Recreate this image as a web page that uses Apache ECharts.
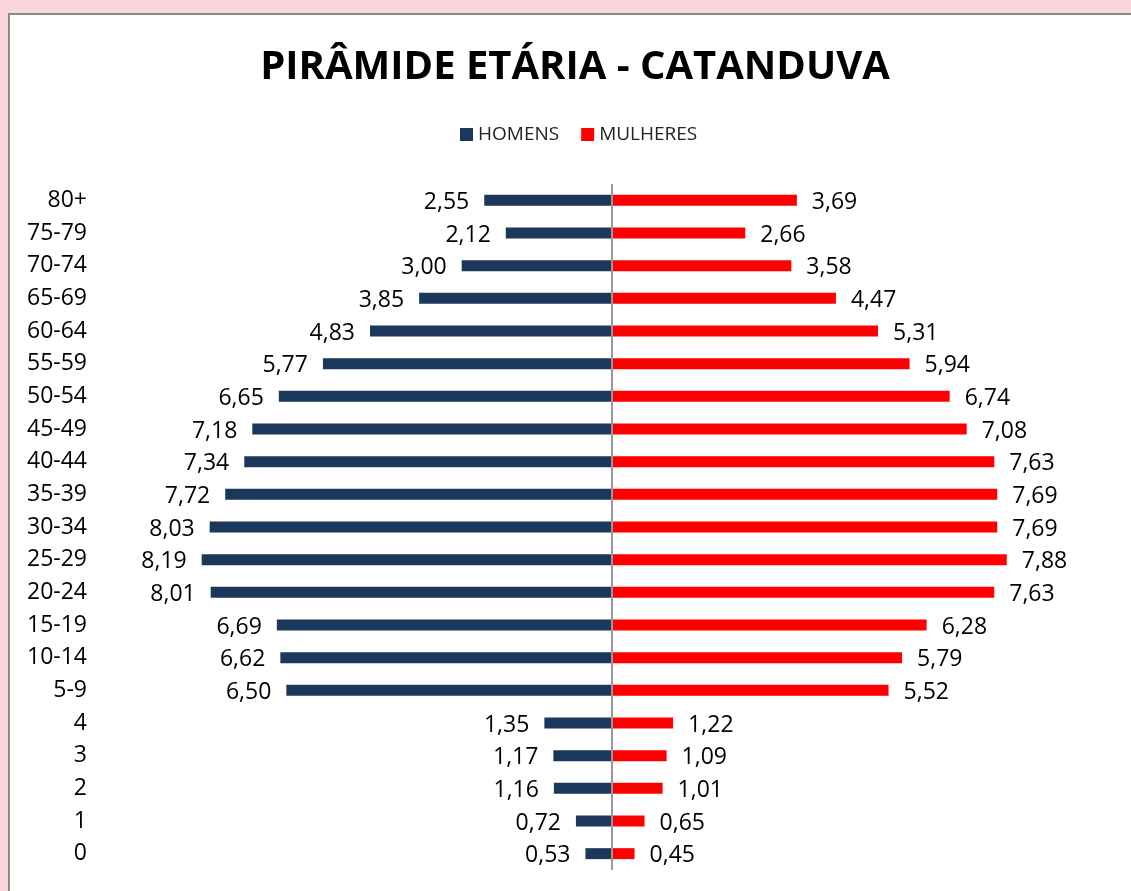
<!DOCTYPE html>
<html>
<head>
<meta charset="utf-8">
<script src="https://cdn.jsdelivr.net/npm/echarts@6/dist/echarts.min.js"></script>
<style>
html, body { margin: 0; padding: 0; background: #f9d6dc; }
.frame {
    position: absolute; left: 8px; top: 13px; right: 0; bottom: 0;
    background: #fff; border-top: 2px solid #8a8a8a; border-left: 2px solid #8a8a8a;
}
#piramide { position: absolute; left: 0; top: 0; width: 1131px; height: 891px; }
</style>
</head>
<body>
<div class="frame"></div>
<div id="piramide"></div>
<script>
// faixas etarias, de baixo para cima
var faixas = ['0', '1', '2', '3', '4', '5-9', '10-14', '15-19', '20-24', '25-29', '30-34',
    '35-39', '40-44', '45-49', '50-54', '55-59', '60-64', '65-69', '70-74', '75-79', '80+']
var homens = [0.53, 0.72, 1.16, 1.17, 1.35, 6.50, 6.62, 6.69, 8.01, 8.19, 8.03,
    7.72, 7.34, 7.18, 6.65, 5.77, 4.83, 3.85, 3.00, 2.12, 2.55]
var mulheres = [0.45, 0.65, 1.01, 1.09, 1.22, 5.52, 5.79, 6.28, 7.63, 7.88, 7.69,
    7.69, 7.63, 7.08, 6.74, 5.94, 5.31, 4.47, 3.58, 2.66, 3.69]

var fonte = '"Open Sans", sans-serif'

function fmt(v){
    return Math.abs(v).toFixed(2).replace('.', ',')
}

var chart = echarts.init(document.getElementById('piramide'))
chart.setOption({
    animation: false,
    title: {
        text: 'PIRÂMIDE ETÁRIA - CATANDUVA',
        left: 570,
        textAlign: 'center',
        top: 43,
        textStyle: { fontFamily: fonte, fontWeight: 'bold', fontSize: 40, color: '#000' }
    },
    legend: {
        left: 455,
        top: 120,
        itemWidth: 13,
        itemHeight: 13,
        itemGap: 22,
        icon: 'rect',
        textStyle: { fontFamily: fonte, fontSize: 19, color: '#222' },
        data: ['HOMENS', 'MULHERES']
    },
    grid: {
        left: 111,
        right: 18,
        top: 184,
        bottom: 21,
        outerBoundsMode: 'none'
    },
    xAxis: {
        type: 'value',
        min: -10,
        max: 10,
        show: false
    },
    yAxis: {
        type: 'category',
        data: faixas,
        axisLine: { show: false },
        axisTick: { show: false },
        axisLabel: { fontFamily: fonte, fontSize: 23, color: '#000', margin: 24, padding: [4, 0, 0, 0] }
    },
    series: [{
        name: 'HOMENS',
        type: 'bar',
        barWidth: 11,
        barGap: '-100%',
        itemStyle: { color: '#1c375c' },
        data: homens.map(function(v){ return -v }),
        label: {
            show: true,
            position: 'left',
            distance: 15,
            offset: [0, 2],
            fontFamily: fonte,
            fontSize: 23,
            color: '#000',
            formatter: function(p){ return fmt(p.value) }
        },
        markLine: {
            silent: true,
            symbol: 'none',
            label: { show: false },
            lineStyle: { color: '#999', width: 2, type: 'solid' },
            data: [{ xAxis: 0 }]
        }
    }, {
        name: 'MULHERES',
        type: 'bar',
        barWidth: 11,
        barGap: '-100%',
        itemStyle: { color: '#ff0000' },
        data: mulheres,
        label: {
            show: true,
            position: 'right',
            distance: 15,
            offset: [0, 2],
            fontFamily: fonte,
            fontSize: 23,
            color: '#000',
            formatter: function(p){ return fmt(p.value) }
        }
    }]
})
</script>
</body>
</html>
